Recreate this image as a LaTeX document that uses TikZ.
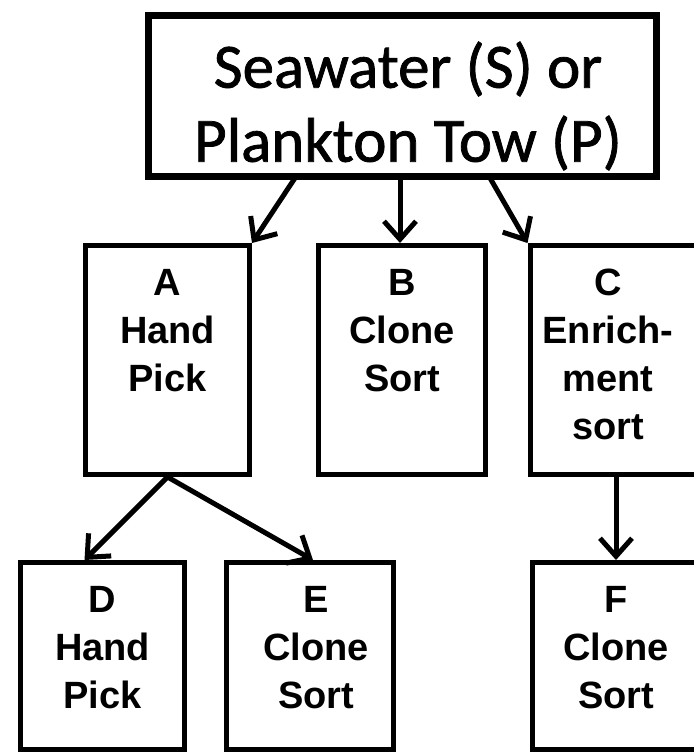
\documentclass[tikz,border=0pt]{standalone}
\usepackage{fontspec}
\setmainfont{Liberation Sans}
\newfontfamily\calfont[FakeBold=1.2]{Carlito}
\usetikzlibrary{arrows.meta}
\begin{document}
\begin{tikzpicture}[x=1pt,y=-1pt,
  topbox/.style={draw=black,line width=7pt,minimum width=508pt,minimum height=161pt,inner sep=0pt},
  box/.style={draw=black,line width=5pt,inner sep=0pt},
  lbl/.style={font=\fontsize{38}{48}\selectfont\bfseries,align=center,inner sep=0pt,anchor=north},
  arr/.style={line width=5pt,-{Straight Barb[length=18pt,width=32pt,line width=5pt]}}]
\useasboundingbox (0,0) rectangle (694,756);
\clip (0,0) rectangle (694,756);
% top box
\node[topbox] (S) at (402.5,96) {};
\node[font=\calfont\fontsize{63}{74}\selectfont,align=center,inner sep=0pt] (St) at (408,106) {Seawater (S) or\\Plankton Tow (P)};
% middle row
\node[box,minimum width=164pt,minimum height=229pt] (A) at (167.5,360) {};
\node[box,minimum width=167pt,minimum height=229pt] (B) at (402,360) {};
\node[box,minimum width=172pt,minimum height=229pt] (C) at (616,360) {};
% bottom row
\node[box,minimum width=164pt,minimum height=187pt] (D) at (102.5,656) {};
\node[box,minimum width=167pt,minimum height=187pt] (E) at (310,656) {};
\node[box,minimum width=167pt,minimum height=187pt] (F) at (616,656) {};
% labels
\node[lbl] (At) at ([yshift=-26pt]A.north) {A\\Hand\\Pick};
\node[lbl] (Bt) at ([yshift=-26pt]B.north) {B\\Clone\\Sort};
\node[lbl] (Ct) at ([xshift=-8pt,yshift=-26pt]C.north) {C\\Enrich-\\ment\\sort};
\node[lbl] (Dt) at ([yshift=-26pt]D.north) {D\\Hand\\Pick};
\node[lbl] (Et) at ([xshift=6pt,yshift=-26pt]E.north) {E\\Clone\\Sort};
\node[lbl] (Ft) at ([yshift=-26pt]F.north) {F\\Clone\\Sort};
% connectors
\coordinate (s1) at (295,178);
\coordinate (s2) at (400,178);
\coordinate (s3) at (490,178);
\draw[arr] (s1) -- (A.north east);
\draw[arr] (s2) -- (B.north -| s2);
\draw[arr] (s3) -- (C.north west);
\draw[arr] (A.south) -- ([xshift=-18pt]D.north);
\draw[arr] (A.south) -- ([xshift=3pt]E.north);
\draw[arr] (C.south -| F.north) -- (F.north);
\end{tikzpicture}
\end{document}
